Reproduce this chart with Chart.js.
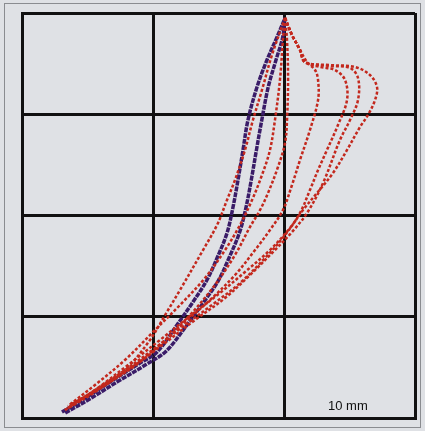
<!DOCTYPE html>
<html lang="en">
<head>
    <meta charset="utf-8">
    <title>Loading curves</title>
    <script src="https://cdn.jsdelivr.net/npm/chart.js@4.4.0/dist/chart.umd.min.js"></script>
    <style>
        body { margin: 0; background: #dfe1e5; }
        #wrap { position: relative; width: 425px; height: 431px; }
        #scaleLabel {
            position: absolute; left: 328px; top: 398px;
            font-family: "Liberation Sans", Arial, sans-serif; font-size: 13px; color: #111;
        }
    </style>
</head>
<body>
    <div id="wrap">
        <canvas id="myChart"></canvas>
        <span id="scaleLabel">10 mm</span>
    </div>
    <script>
        // grid: 10 mm per cell, 3 x 4 cells
        const xTicks = [0, 10, 20, 30];
        const yTicks = [0, 10, 20, 30, 40];

        // loading curves (dark blue), [x mm, y]
        const blue1 = [[3.05,0.59],[4.96,2.07],[6.95,3.75],[9.01,5.43],[10.31,6.52],[11.83,9.19],[13.05,11.46],[14.12,13.63],[14.89,15.8],[15.65,18.27],[16.11,20.84],[16.49,23.51],[16.87,26.47],[17.25,29.43],[17.94,32.69],[18.7,35.36],[19.47,37.63],[20.08,39.51]];
        const blue2 = [[3.3,0.5],[5.2,1.9],[7.3,3.6],[9.5,5.3],[11.0,6.6],[12.6,9.2],[13.9,11.5],[15.0,13.6],[15.8,15.8],[16.6,18.3],[17.1,20.8],[17.5,23.5],[17.9,26.5],[18.3,29.4],[18.8,32.7],[19.4,35.4],[19.9,37.6],[20.08,39.51]];

        // red curves
        const red1 = [[3.28,0.79],[5.57,2.57],[7.86,4.74],[9.77,7.7],[10.92,10.17],[12.06,12.64],[13.82,16.59],[14.89,19.06],[15.65,21.53],[16.26,23.51],[17.02,26.47],[17.63,29.43],[18.32,32.4],[19.08,35.85],[20.08,39.51]];
        const redA = [[20.08,39.51],[20.23,37.33],[20.31,33.38],[20.23,29.43],[20.08,27.16],[19.54,24.79],[18.78,22.22],[18.17,20.54],[17.4,18.86],[16.26,16.1],[14.73,13.14],[12.82,10.17],[10.92,7.7],[9.01,5.53],[6.72,3.56],[4.43,1.78],[3.28,0.79]];
        const redA2 = [[20.08,39.51],[19.92,37.33],[19.69,33.38],[19.31,29.43],[18.93,26.47],[18.32,24.0],[17.56,21.53],[16.64,19.06],[15.5,16.59],[13.97,13.83],[12.06,11.16],[10.15,8.69],[7.86,5.73],[5.57,3.26],[3.51,1.19]];
        const redB = [[20.08,39.51],[20.61,37.83],[21.22,36.35],[21.76,35.16],[22.37,34.37],[22.6,33.38],[22.6,31.41],[21.98,28.44],[21.22,25.48],[20.61,23.01],[19.92,20.54],[18.93,18.57],[17.79,16.59],[16.26,14.12],[14.35,11.65],[12.44,9.48],[10.53,7.21],[8.24,4.94],[5.95,2.96],[3.66,1.28]];
        const redC = [[20.08,39.51],[20.61,37.83],[21.22,36.35],[21.6,35.16],[22.75,34.67],[23.89,34.37],[24.66,33.38],[24.81,31.41],[24.12,28.94],[23.28,26.47],[22.6,24.49],[21.98,22.52],[21.22,20.25],[20.08,18.07],[18.55,15.8],[16.64,13.33],[14.5,11.16],[12.44,9.19],[10.15,6.91],[7.86,4.74],[5.57,2.77],[3.51,0.99]];
        const redD = [[20.08,39.51],[20.61,37.83],[21.22,36.35],[21.6,35.16],[23.51,34.77],[25.04,34.57],[25.65,33.58],[25.65,31.41],[25.04,29.43],[24.27,27.46],[22.98,23.21],[21.76,20.25],[20.61,18.37],[19.31,16.59],[17.4,14.12],[15.5,11.85],[13.21,9.68],[10.92,7.41],[8.63,5.23],[5.95,2.96],[3.66,1.28]];
        const redE = [[20.08,39.51],[20.61,37.83],[21.22,36.35],[21.6,35.16],[23.51,34.86],[25.42,34.67],[26.56,33.88],[27.1,32.69],[26.95,31.41],[26.41,29.93],[25.8,28.74],[24.81,26.47],[23.74,24.2],[22.52,22.22],[21.45,20.54],[20.46,18.77],[18.93,16.59],[17.02,14.42],[15.11,12.35],[12.82,10.07],[10.53,7.7],[8.09,5.23],[5.57,2.77],[3.51,0.99]];

        const RED = '#c3281d';
        const BLUE = '#3a1c68';

        const toPts = arr => arr.map(p => ({ x: p[0], y: p[1] }));

        const redSet = (data) => ({
            data: toPts(data),
            showLine: true,
            borderColor: RED,
            borderWidth: 2.5,
            borderDash: [3, 2],
            tension: 0.35,
            pointRadius: 0
        });
        const blueSet = (data) => ({
            data: toPts(data),
            showLine: true,
            borderColor: BLUE,
            borderWidth: 3.5,
            borderDash: [5, 1],
            tension: 0.35,
            pointRadius: 0
        });

        // outer thin photo frame
        const framePlugin = {
            id: 'frame',
            beforeDraw(chart) {
                const ctx = chart.ctx;
                ctx.save();
                ctx.strokeStyle = '#8a8c90';
                ctx.lineWidth = 1;
                ctx.strokeRect(4.5, 3.5, 416, 424);
                ctx.restore();
            }
        };

        new Chart(document.getElementById('myChart'), {
            type: 'scatter',
            data: {
                datasets: [
                    redSet(redE), redSet(redD), redSet(redC), redSet(redB),
                    redSet(redA), redSet(redA2), redSet(red1),
                    blueSet(blue1), blueSet(blue2)
                ]
            },
            options: {
                responsive: true,
                maintainAspectRatio: false,
                animation: false,
                layout: { padding: { left: 22, top: 13, right: 10, bottom: 13 } },
                plugins: { legend: { display: false }, tooltip: { enabled: false } },
                scales: {
                    x: {
                        min: xTicks[0], max: xTicks[xTicks.length - 1],
                        afterBuildTicks: axis => { axis.ticks = xTicks.map(v => ({ value: v })); },
                        ticks: { display: false },
                        grid: { color: '#111', lineWidth: 3, drawTicks: false },
                        border: { color: '#111', width: 3 }
                    },
                    y: {
                        min: yTicks[0], max: yTicks[yTicks.length - 1],
                        afterBuildTicks: axis => { axis.ticks = yTicks.map(v => ({ value: v })); },
                        ticks: { display: false },
                        grid: { color: '#111', lineWidth: 3, drawTicks: false },
                        border: { color: '#111', width: 3 }
                    }
                }
            },
            plugins: [framePlugin]
        });
    </script>
</body>
</html>
